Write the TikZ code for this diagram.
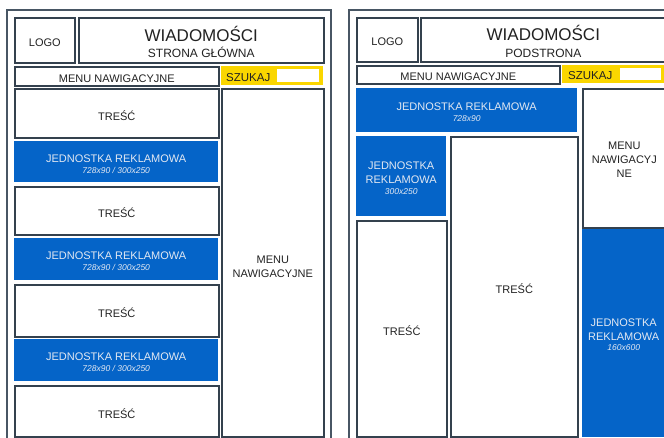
\documentclass[tikz,border=0pt]{standalone}
\usepackage{fontspec}
\setmainfont{Liberation Sans}
\definecolor{linec}{RGB}{52,65,78}
\definecolor{framec}{RGB}{72,86,100}
\definecolor{adblue}{RGB}{5,100,200}
\definecolor{szyellow}{RGB}{250,214,0}
\definecolor{adtext}{RGB}{226,232,242}
\definecolor{txt}{RGB}{34,34,34}
\newcommand\subt[1]{{\fontsize{8.5}{10}\selectfont\itshape #1}}
\tikzset{
  wbox/.style={draw=linec, line width=1.6pt, fill=white, inner sep=0pt},
  adbox/.style={fill=adblue, inner sep=0pt},
  frame/.style={draw=framec, line width=1.6pt, inner sep=0pt},
  yel/.style={fill=szyellow, inner sep=0pt},
  inp/.style={fill=white, inner sep=0pt},
  wt/.style={inner sep=0pt, text=txt, align=center, font=\fontsize{11}{14}\selectfont, yshift=-2.2pt},
  adt/.style={inner sep=0pt, text=adtext, align=center, font=\fontsize{11}{14}\selectfont, yshift=-2.2pt},
  szt/.style={inner sep=0pt, text=txt, font=\fontsize{11.5}{14}\selectfont}
}
\begin{document}
\begin{tikzpicture}[x=1pt,y=-1pt]
\useasboundingbox (0,0) rectangle (664,438);
\clip (0,0) rectangle (664,438);
\fill[white] (0,0) rectangle (664,438);
% ---------- left panel ----------
\node[frame, minimum width=324pt, minimum height=460pt, anchor=north west] (frameL) at (6,9) {};
\node[wbox, minimum width=60pt, minimum height=45pt, anchor=north west] (logoL) at (14,17) {};
\node[wbox, minimum width=245pt, minimum height=45pt, anchor=north west] (titleL) at (78,17) {};
\node[wbox, minimum width=204pt, minimum height=19pt, anchor=north west] (menuL) at (14,66) {};
\node[yel, minimum width=102pt, minimum height=19pt, anchor=north west] (szL) at (221,66) {};
\node[inp, minimum width=42pt, minimum height=13pt, anchor=north west] (inpL) at (277,69) {};
\node[wbox, minimum width=204pt, minimum height=49pt, anchor=north west] (t1L) at (14,88) {};
\node[adbox, minimum width=204pt, minimum height=41pt, anchor=north west] (a1L) at (14,141) {};
\node[wbox, minimum width=204pt, minimum height=48pt, anchor=north west] (t2L) at (14,186) {};
\node[adbox, minimum width=204pt, minimum height=42pt, anchor=north west] (a2L) at (14,238) {};
\node[wbox, minimum width=204pt, minimum height=52pt, anchor=north west] (t3L) at (14,284) {};
\node[adbox, minimum width=204pt, minimum height=42pt, anchor=north west] (a3L) at (14,339) {};
\node[wbox, minimum width=204pt, minimum height=51pt, anchor=north west] (t4L) at (14,385) {};
\node[wbox, minimum width=102pt, minimum height=348pt, anchor=north west] (colL) at (221,88) {};
% texts left
\node[wt] (logoLt) at (logoL.center) {LOGO};
\node[wt, font=\fontsize{12}{16.4}\selectfont, yshift=0.7pt] (titleLt) at (titleL.center) {{\fontsize{17}{17}\selectfont WIADOMOŚCI}\\STRONA GŁÓWNA};
\node[wt] (menuLt) at (menuL.center) {MENU NAWIGACYJNE};
\node[szt, anchor=west] (szLt) at (226,77.5) {SZUKAJ};
\node[wt] (t1Lt) at (t1L.center) {TREŚĆ};
\node[adt] (a1Lt) at (a1L.center) {JEDNOSTKA REKLAMOWA\\[-2.7pt]\subt{728x90 / 300x250}};
\node[wt] (t2Lt) at (t2L.center) {TREŚĆ};
\node[adt] (a2Lt) at (a2L.center) {JEDNOSTKA REKLAMOWA\\[-2.7pt]\subt{728x90 / 300x250}};
\node[wt] (t3Lt) at (t3L.center) {TREŚĆ};
\node[adt] (a3Lt) at (a3L.center) {JEDNOSTKA REKLAMOWA\\[-2.7pt]\subt{728x90 / 300x250}};
\node[wt] (t4Lt) at (t4L.center) {TREŚĆ};
\node[wt, yshift=-1.3pt] (colLt) at (colL.center) {MENU\\NAWIGACYJNE};
% ---------- right panel ----------
\node[frame, minimum width=324pt, minimum height=460pt, anchor=north west] (frameR) at (348,9) {};
\node[wbox, minimum width=61pt, minimum height=44pt, anchor=north west] (logoR) at (356,17) {};
\node[wbox, minimum width=245pt, minimum height=44pt, anchor=north west] (titleR) at (420,17) {};
\node[wbox, minimum width=203pt, minimum height=18pt, anchor=north west] (menuR) at (356,65) {};
\node[yel, minimum width=103pt, minimum height=18pt, anchor=north west] (szR) at (562,65) {};
\node[inp, minimum width=41pt, minimum height=12pt, anchor=north west] (inpR) at (620,68) {};
\node[adbox, minimum width=221pt, minimum height=44pt, anchor=north west] (a1R) at (356,88) {};
\node[wbox, minimum width=83pt, minimum height=139pt, anchor=north west] (colR) at (582,88) {};
\node[adbox, minimum width=90pt, minimum height=80pt, anchor=north west] (a2R) at (356,136) {};
\node[wbox, minimum width=90pt, minimum height=216pt, anchor=north west] (t1R) at (356,220) {};
\node[wbox, minimum width=127pt, minimum height=300pt, anchor=north west] (t2R) at (450,136) {};
\node[adbox, minimum width=83pt, minimum height=208pt, anchor=north west] (a3R) at (582,229) {};
% texts right
\node[wt] (logoRt) at (logoR.center) {LOGO};
\node[wt, font=\fontsize{12}{16.4}\selectfont, yshift=0.7pt] (titleRt) at (titleR.center) {{\fontsize{17}{17}\selectfont WIADOMOŚCI}\\PODSTRONA};
\node[wt] (menuRt) at (menuR.center) {MENU NAWIGACYJNE};
\node[szt, anchor=west] (szRt) at (568,75.5) {SZUKAJ};
\node[adt] (a1Rt) at (a1R.center) {JEDNOSTKA REKLAMOWA\\[-3pt]\subt{728x90}};
\node[wt, yshift=0.8pt] (colRt) at (colR.center) {MENU\\NAWIGACYJ\\NE};
\node[adt] (a2Rt) at (a2R.center) {JEDNOSTKA\\REKLAMOWA\\[-3pt]\subt{300x250}};
\node[wt] (t1Rt) at (t1R.center) {TREŚĆ};
\node[wt] (t2Rt) at (t2R.center) {TREŚĆ};
\node[adt, yshift=0.5pt] (a3Rt) at (a3R.center) {JEDNOSTKA\\REKLAMOWA\\[-4pt]\subt{160x600}};
\end{tikzpicture}
\end{document}
